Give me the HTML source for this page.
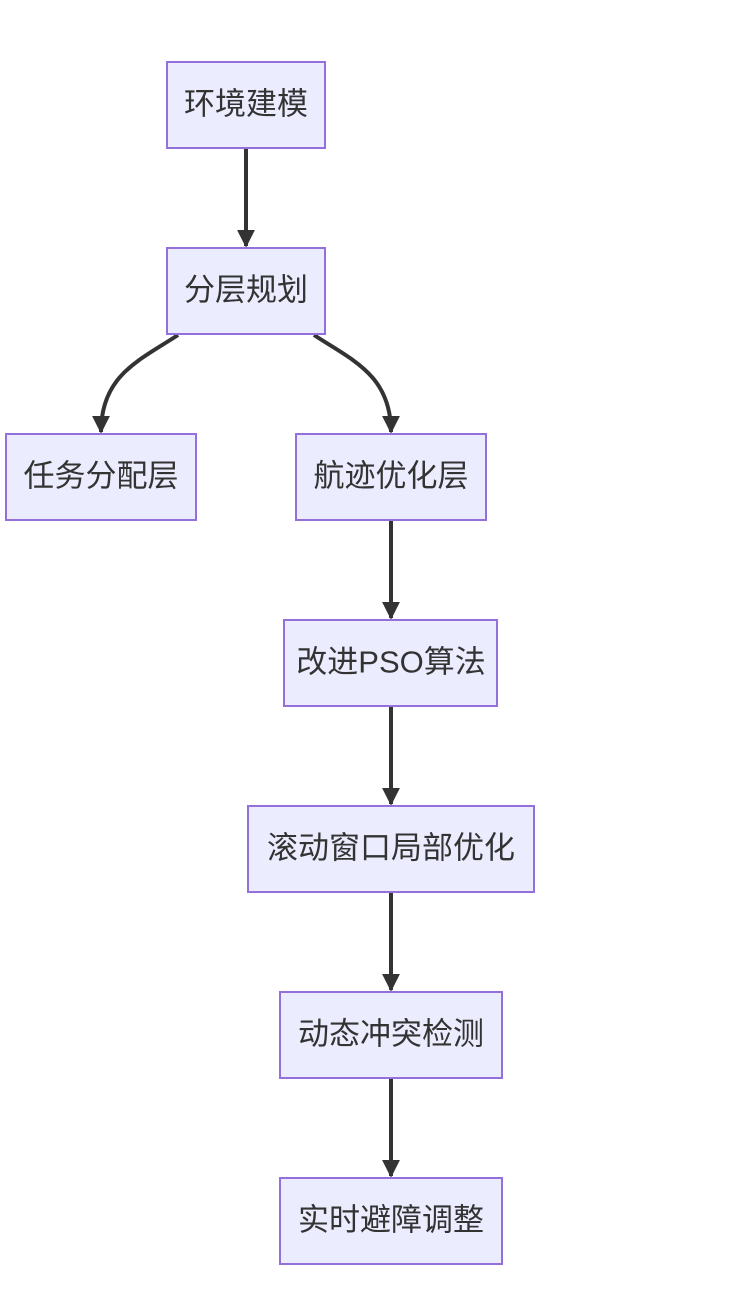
<!DOCTYPE html>
<html><head><meta charset="utf-8"><style>
html,body{margin:0;padding:0;background:#fff;width:748px;height:1314px;overflow:hidden}
svg text{font-family:"Liberation Sans","Noto Sans CJK SC",sans-serif;font-size:31px;fill:#333;text-anchor:middle;dominant-baseline:central}
</style></head><body>
<svg width="748" height="1314" viewBox="0 0 748 1314" xmlns="http://www.w3.org/2000/svg">
<defs><marker id="a" viewBox="0 0 10 10" refX="9" refY="5" markerWidth="8" markerHeight="8" markerUnits="userSpaceOnUse" orient="auto"><path d="M0,0L10,5L0,10z" fill="#333"/></marker>
<marker id="b" viewBox="0 0 10 10" refX="9" refY="5" markerWidth="4.5" markerHeight="4.5" orient="auto"><path d="M0,0L10,5L0,10z" fill="#333"/></marker></defs>
<g stroke="#333" stroke-width="4" fill="none" marker-end="url(#b)">
<path d="M246,148V246"/>
<path d="M178,335C140,360 101,375 101,432"/>
<path d="M314,335C352,360 391,375 391,432"/>
<path d="M391,520V618"/>
<path d="M391,706V804"/>
<path d="M391,892V990"/>
<path d="M391,1078V1176"/>
</g>
<g fill="#ECECFF" stroke="#9370DB" stroke-width="2">
<rect x="167" y="62" width="158" height="86"/>
<rect x="167" y="248" width="158" height="86"/>
<rect x="6" y="434" width="190" height="86"/>
<rect x="296" y="434" width="190" height="86"/>
<rect x="284" y="620" width="213" height="86"/>
<rect x="248" y="806" width="286" height="86"/>
<rect x="280" y="992" width="222" height="86"/>
<rect x="280" y="1178" width="222" height="86"/>
</g>
<text x="246" y="104">环境建模</text>
<text x="246" y="290">分层规划</text>
<text x="101" y="476">任务分配层</text>
<text x="391" y="476">航迹优化层</text>
<text x="391" y="662">改进PSO算法</text>
<text x="391" y="848">滚动窗口局部优化</text>
<text x="391" y="1034">动态冲突检测</text>
<text x="391" y="1220">实时避障调整</text>
</svg>
</body></html>
